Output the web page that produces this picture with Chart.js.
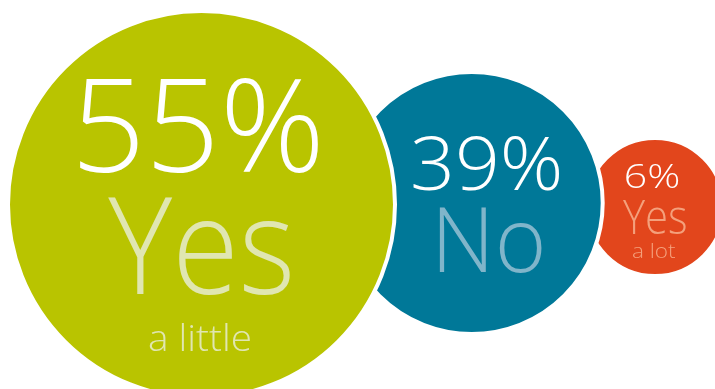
<!DOCTYPE html>
<html>
<head>
<meta charset="utf-8">
<title>Survey answers</title>
<script src="https://cdn.jsdelivr.net/npm/chart.js@4/dist/chart.umd.min.js"></script>
<style>
  html, body { margin: 0; padding: 0; background: #ffffff; }
  #wrap { width: 715px; height: 389px; position: relative; overflow: hidden; }
  canvas { display: block; }
</style>
</head>
<body>
<div id="wrap"><canvas id="chart" width="715" height="389"></canvas></div>
<script>
// Survey answers: share of respondents per answer
const answers    = ['Yes', 'No', 'Yes'];
const qualifiers = ['a little', '', 'a lot'];
const shares     = [55, 39, 6];

// Bubble look: radius, colours, overlap with the left neighbour, small vertical nudge
const bubbleRadius  = [193.5, 131, 69];
const bubbleOverlap = [0, 54.3, 16.7];
const bubbleDrop    = [-0.5, -2, 2];
const fillColors    = ['#b9c400', '#007898', '#e2461c'];
const softColors    = ['#e0e6b1', '#80b5ca', '#f4a07c'];
const leftMargin    = 8;
const centreLine    = 205;

// Text inside each bubble: offset from the bubble centre, font size, ink width
const textStyle = [
  { pct: { dx: -2.5, dy: -32.5, size: 130, w: 238 },
    ans: { dx: -2.3, dy: 89.5,  size: 134, w: 182 },
    sub: { dx: -2,   dy: 146.2, size: 36,  w: 101 } },
  { pct: { dx: 14.5, dy: -13,   size: 73,  w: 146 },
    ans: { dx: 19.1, dy: 68.7,  size: 90,  w: 102 },
    sub: null },
  { pct: { dx: -2.8, dy: -19.3, size: 33,  w: 52 },
    ans: { dx: -0.6, dy: 27.3,  size: 47,  w: 63 },
    sub: { dx: -1.1, dy: 50.7,  size: 20,  w: 44 } }
];
const FONT = '"Open Sans", "Noto Sans", sans-serif';

// Pack the bubbles left to right, each one overlapping the previous
const centres = [];
shares.forEach((v, i) => {
  if (i === 0) centres.push(leftMargin + bubbleRadius[0]);
  else centres.push(centres[i - 1] + bubbleRadius[i - 1] + bubbleRadius[i] - bubbleOverlap[i]);
});

// One dataset per answer; dataset 0 is drawn last so it sits on top
const datasets = shares.map((v, i) => ({
  label: answers[i] + (qualifiers[i] ? ' ' + qualifiers[i] : ''),
  data: [{ x: centres[i], y: centreLine + bubbleDrop[i], share: v }],
  backgroundColor: fillColors[i],
  borderColor: '#ffffff',
  borderWidth: 4,
  radius: bubbleRadius[i],
  hoverRadius: 0,
  hoverBorderWidth: 4,
  clip: false
}));

// Draw a line of text centred on its ink, squeezed or stretched to a given ink width
function drawLabel(ctx, text, cx, cy, st, color) {
  ctx.font = '300 ' + st.size + 'px ' + FONT;
  ctx.fillStyle = color;
  ctx.textAlign = 'left';
  ctx.textBaseline = 'alphabetic';
  const m = ctx.measureText(text);
  const ink = m.actualBoundingBoxLeft + m.actualBoundingBoxRight;
  const k = st.w && ink > 0 ? st.w / ink : 1;
  const inkMid = (m.actualBoundingBoxRight - m.actualBoundingBoxLeft) / 2;
  ctx.save();
  ctx.translate(cx + st.dx, cy + st.dy);
  ctx.scale(k, 1);
  ctx.fillText(text, -inkMid, 0);
  ctx.restore();
}

const bubbleText = {
  id: 'bubbleText',
  afterDatasetsDraw(chart) {
    const ctx = chart.ctx;
    chart.data.datasets.forEach((ds, i) => {
      const el = chart.getDatasetMeta(i).data[0];
      const s = textStyle[i];
      drawLabel(ctx, ds.data[0].share + '%', el.x, el.y, s.pct, '#ffffff');
      drawLabel(ctx, answers[i], el.x, el.y, s.ans, softColors[i]);
      if (qualifiers[i] && s.sub) drawLabel(ctx, qualifiers[i], el.x, el.y, s.sub, softColors[i]);
    });
  }
};

new Chart(document.getElementById('chart'), {
  type: 'bubble',
  data: { datasets },
  options: {
    responsive: false,
    animation: false,
    layout: { padding: 0, autoPadding: false },
    plugins: { legend: { display: false }, tooltip: { enabled: false } },
    scales: {
      x: { type: 'linear', min: 0, max: 715, display: false },
      y: { type: 'linear', min: 0, max: 389, reverse: true, display: false }
    }
  },
  plugins: [bubbleText]
});
</script>
</body>
</html>
